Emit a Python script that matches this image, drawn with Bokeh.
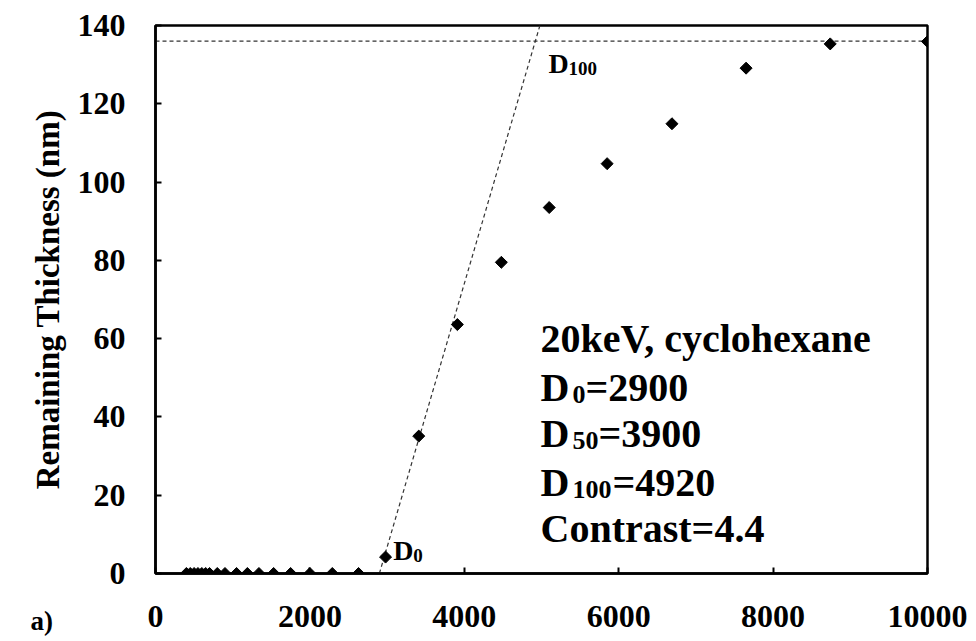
import numpy as np
from bokeh.plotting import figure
from bokeh.models import Label, Range1d, FixedTicker, ColumnDataSource
from bokeh.embed import file_html
from bokeh.resources import INLINE

# ---- data ----
dose_zero = [400, 450, 500, 550, 600, 650, 700, 800, 900, 1050, 1190, 1340, 1530, 1750, 2000, 2290, 2630]
thick_zero = [0] * len(dose_zero)
dose_rise = [2980, 3410, 3910, 4480, 5100, 5850, 6690, 7650, 8740, 10000]
thick_rise = [4.2, 35.1, 63.6, 79.5, 93.5, 104.7, 114.9, 129.1, 135.3, 135.9]

d0, d100, t_max = 2900, 4920, 136
x_ticks = [0, 2000, 4000, 6000, 8000, 10000]
y_ticks = [0, 20, 40, 60, 80, 100, 120, 140]

FONT = "Liberation Serif"

p = figure(width=976, height=641, output_backend="svg", toolbar_location=None,
           x_range=Range1d(0, 10000), y_range=Range1d(0, 140),
           min_border_left=155, min_border_right=49, min_border_top=25, min_border_bottom=68)
p.background_fill_color = "white"
p.border_fill_color = "white"
p.grid.visible = False
p.outline_line_color = "black"
p.outline_line_width = 2.5

for ax in (p.xaxis[0], p.yaxis[0]):
    ax.axis_line_width = 2.5
    ax.axis_line_color = "black"
    ax.major_tick_in = 6
    ax.major_tick_out = 0
    ax.major_tick_line_width = 2
    ax.minor_tick_in = 0
    ax.minor_tick_out = 0
    ax.major_label_text_font = FONT
    ax.major_label_text_font_style = "bold"
    ax.major_label_text_font_size = "32px"
    ax.major_label_text_color = "black"

p.xaxis.ticker = FixedTicker(ticks=x_ticks)
p.yaxis.ticker = FixedTicker(ticks=y_ticks)
p.xaxis.major_label_standoff = 32
p.yaxis.major_label_standoff = 30
p.yaxis.axis_label = "Remaining Thickness (nm)"
p.yaxis.axis_label_text_font = FONT
p.yaxis.axis_label_text_font_style = "bold"
p.yaxis.axis_label_text_font_size = "33px"
p.yaxis.axis_label_text_color = "black"
p.yaxis.axis_label_standoff = 9

# dashed guide lines
dash = dict(line_color="#333333", line_width=1.2, line_dash="4 3")
p.line([0, 10000], [t_max, t_max], **dash)
slope = t_max / (d100 - d0)
p.line([d0, d0 + 140 / slope], [0, 140], **dash)

# data points
src = ColumnDataSource(dict(x=dose_zero + dose_rise, y=thick_zero + thick_rise))
p.scatter("x", "y", source=src, marker="square", angle=np.pi / 4, size=8.5,
          fill_color="black", line_color="black")

def mk(x, y, text, size, dx=0, dy=0):
    return Label(x=x, y=y, x_offset=dx, y_offset=dy, text=text,
                 text_font=FONT, text_font_style="bold",
                 text_font_size=f"{size}px", text_color="black",
                 text_baseline="alphabetic", text_align="left")

def lab(*a, **k):
    p.add_layout(mk(*a, **k))

# D0 / D100 markers
lab(3080, 4.2, "D", 28, dy=7)
lab(3080, 4.2, "0", 19, dx=20, dy=2)
lab(5090, 130, "D", 28, dy=1)
lab(5090, 130, "100", 19, dx=20, dy=-4)

# annotation block
bx = 4987
lab(bx, 60.0, "20keV, cyclohexane", 40)
lab(bx, 47.6, "D", 40)
lab(bx, 47.6, "0", 26, dx=32, dy=-7)
lab(bx, 47.6, "=2900", 40, dx=45)
lab(bx, 35.8, "D", 40)
lab(bx, 35.8, "50", 26, dx=32, dy=-7)
lab(bx, 35.8, "=3900", 40, dx=58)
lab(bx, 23.3, "D", 40)
lab(bx, 23.3, "100", 26, dx=32, dy=-7)
lab(bx, 23.3, "=4920", 40, dx=72)
lab(bx, 11.5, "Contrast=4.4", 40)

# panel tag, placed in a side panel so it is not clipped by the frame
p.add_layout(mk(-1620, -14.2, "a)", 27, dy=8), "left")

open("out.html", "w").write(file_html(p, INLINE))
